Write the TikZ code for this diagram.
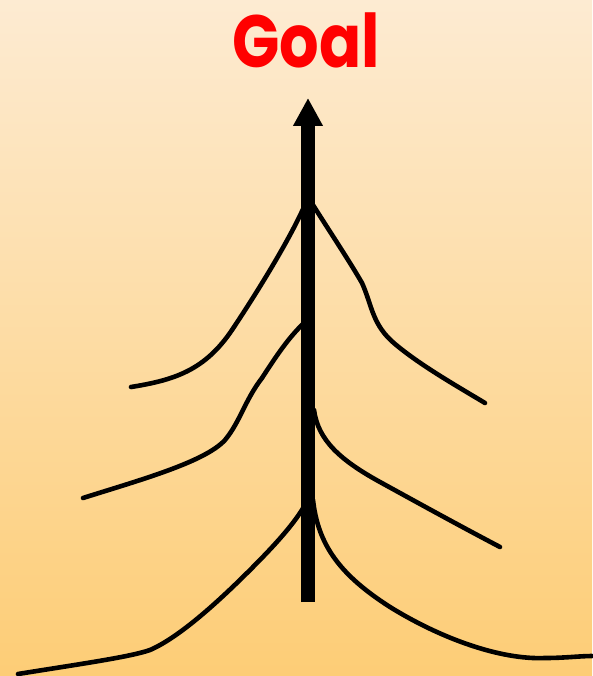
\documentclass[tikz,border=0pt]{standalone}
\usepackage{fontspec}
\setmainfont{Poppins}
\usetikzlibrary{arrows.meta}
\definecolor{bgtop}{RGB}{253,235,210}
\definecolor{bgbot}{RGB}{253,205,118}
\definecolor{goalred}{RGB}{255,0,0}
\tikzset{
  branch/.style={line width=4.6pt, line cap=round, line join=round},
  trunk/.style={line width=14pt, -{Triangle[length=28pt,width=28pt]}},
  goaltext/.style={text=goalred, font=\bfseries\fontsize{74}{84}\selectfont, inner sep=0pt, xscale=0.84}
}
\begin{document}
\begin{tikzpicture}[x=1pt,y=-1pt]
\shade[top color=bgtop, bottom color=bgbot] (0,0) rectangle (592,676);
\useasboundingbox (0,0) rectangle (592,676);
\node[goaltext, anchor=base] (goal) at (306,68) {Goal};
\coordinate (base) at (308,602);
\coordinate (tip) at (308,98);
\draw[trunk] (base) -- (tip);
% top branch
\draw[branch] (131,387) .. controls (175,380) and (205,370) .. (232,330)
  .. controls (262,285) and (290,238) .. (304,207);
\draw[branch] (313,205) .. controls (330,232) and (350,262) .. (362,283)
  .. controls (372,305) and (372,325) .. (395,344)
  .. controls (420,365) and (455,385) .. (485,403);
% middle branch
\draw[branch] (83,498) .. controls (140,480) and (205,462) .. (225,440)
  .. controls (240,422) and (245,400) .. (262,378)
  .. controls (275,358) and (288,338) .. (304,323);
\draw[branch] (314,410) .. controls (318,440) and (340,460) .. (380,482)
  .. controls (420,504) and (460,526) .. (500,547);
% bottom branch
\draw[branch] (18,674) .. controls (80,664) and (130,657) .. (150,650)
  .. controls (180,637) and (220,600) .. (250,570)
  .. controls (275,545) and (296,522) .. (306,503);
\draw[branch] (313,500) .. controls (318,545) and (340,575) .. (390,607)
  .. controls (440,638) and (500,660) .. (545,658)
  .. controls (565,658) and (580,656) .. (592,656);
\end{tikzpicture}
\end{document}
